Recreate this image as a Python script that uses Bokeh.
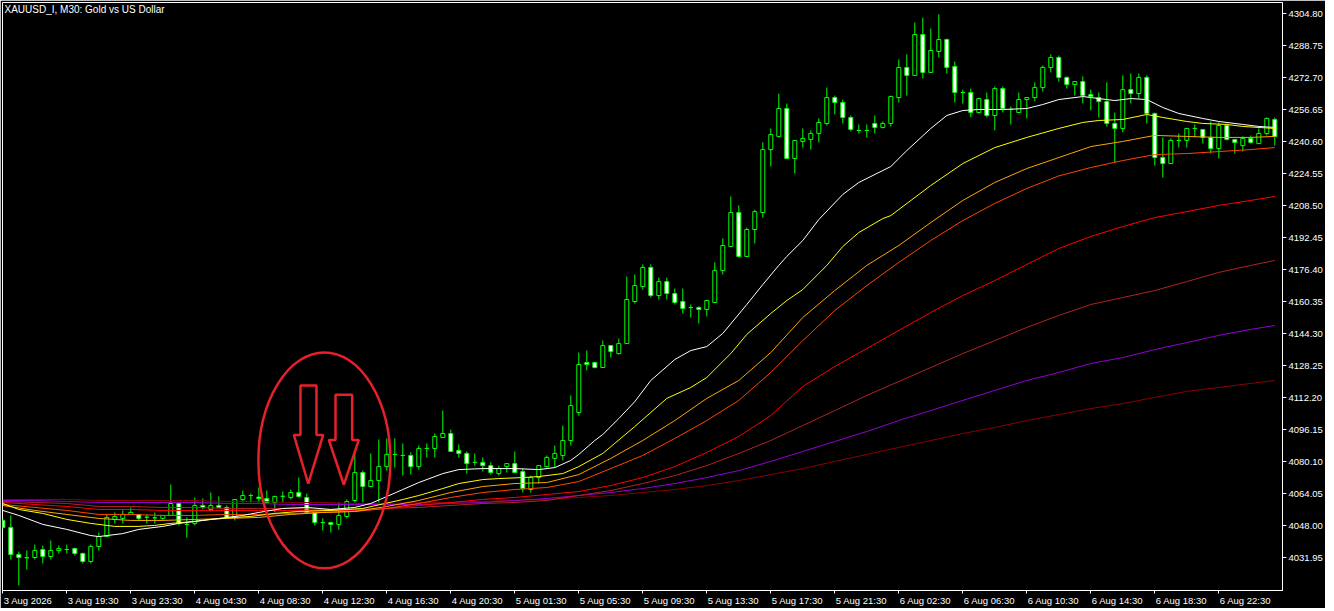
from bokeh.plotting import figure
from bokeh.models import Range1d, FixedTicker, Label, NumeralTickFormatter, LinearAxis
from bokeh.embed import file_html
from bokeh.resources import INLINE

title_text = "XAUUSD_I, M30:  Gold vs US Dollar"

x_tick_labels = ["3 Aug 2026", "3 Aug 19:30", "3 Aug 23:30", "4 Aug 04:30", "4 Aug 08:30",
                 "4 Aug 12:30", "4 Aug 16:30", "4 Aug 20:30", "5 Aug 01:30", "5 Aug 05:30",
                 "5 Aug 09:30", "5 Aug 13:30", "5 Aug 17:30", "5 Aug 21:30", "6 Aug 02:30",
                 "6 Aug 06:30", "6 Aug 10:30", "6 Aug 14:30", "6 Aug 18:30", "6 Aug 22:30"]
x_tick_bars = [0, 8, 16, 24, 32, 40, 48, 56, 64, 72, 80, 88, 96, 104, 112, 120, 128, 136, 144, 152]

y_tick_values = [4031.95, 4048.00, 4064.05, 4080.10, 4096.15, 4112.20, 4128.25, 4144.30, 4160.35,
                 4176.40, 4192.45, 4208.50, 4224.55, 4240.60, 4256.65, 4272.70, 4288.75, 4304.80]

# OHLC per 30-minute bar (bar index 0..159)
opens = [4050.7, 4047.2, 4033.6, 4032.0, 4032.1, 4036.1, 4032.6, 4035.6, 4036.1, 4036.6,
         4034.1, 4030.1, 4037.6, 4042.6, 4051.2, 4051.7, 4053.7, 4053.7, 4052.3, 4052.0,
         4051.7, 4053.2, 4059.2, 4048.7, 4049.2, 4058.2, 4056.2, 4058.2, 4057.2, 4052.2,
         4061.2, 4063.2, 4062.4, 4061.7, 4059.7, 4062.8, 4062.2, 4064.7, 4062.2, 4054.7,
         4049.6, 4049.6, 4048.7, 4052.7, 4060.7, 4074.7, 4067.7, 4070.7, 4077.7, 4083.8,
         4083.3, 4083.3, 4077.7, 4086.8, 4086.8, 4092.3, 4094.3, 4085.8, 4084.3, 4079.8,
         4079.8, 4078.2, 4074.2, 4077.7, 4079.2, 4075.2, 4066.2, 4072.2, 4077.7, 4081.8,
         4083.3, 4090.8, 4104.8, 4129.9, 4129.9, 4127.4, 4138.4, 4134.4, 4139.4, 4160.5,
         4168.0, 4177.6, 4163.5, 4170.5, 4164.5, 4160.5, 4157.5, 4157.5, 4156.5, 4160.0,
         4176.0, 4188.1, 4205.1, 4183.1, 4196.6, 4205.1, 4236.7, 4243.3, 4257.3, 4232.2,
         4240.8, 4241.8, 4244.8, 4249.8, 4262.8, 4260.3, 4252.8, 4246.3, 4246.3, 4249.8,
         4247.8, 4249.8, 4262.8, 4277.9, 4273.9, 4294.4, 4275.4, 4285.9, 4291.9, 4278.4,
         4265.3, 4265.3, 4255.3, 4261.8, 4253.8, 4267.3, 4256.8, 4255.3, 4261.8, 4262.8,
         4267.8, 4277.9, 4282.9, 4272.9, 4269.3, 4270.8, 4264.3, 4262.8, 4260.8, 4249.8,
         4247.3, 4266.8, 4264.8, 4272.9, 4254.8, 4232.7, 4229.7, 4241.3, 4241.3, 4247.3,
         4246.8, 4242.8, 4237.2, 4248.8, 4241.8, 4238.7, 4242.3, 4239.7, 4244.8, 4251.8]
highs = [4051.7, 4053.2, 4035.1, 4035.6, 4038.6, 4038.1, 4040.6, 4038.1, 4038.6, 4037.1,
         4034.6, 4038.6, 4044.6, 4053.7, 4054.7, 4055.7, 4057.2, 4053.7, 4053.7, 4054.7,
         4053.2, 4068.7, 4059.7, 4052.2, 4062.2, 4061.7, 4064.7, 4062.7, 4058.2, 4061.2,
         4065.7, 4064.2, 4067.2, 4065.7, 4063.2, 4065.2, 4066.2, 4072.2, 4064.2, 4054.7,
         4051.7, 4049.6, 4059.7, 4061.2, 4084.3, 4075.7, 4084.3, 4091.3, 4091.8, 4091.8,
         4089.3, 4084.8, 4088.3, 4089.3, 4094.3, 4105.8, 4096.3, 4088.8, 4085.3, 4084.3,
         4082.3, 4079.8, 4078.2, 4079.2, 4085.3, 4076.7, 4073.2, 4078.2, 4083.3, 4088.3,
         4098.3, 4113.4, 4134.9, 4135.9, 4130.4, 4140.9, 4138.4, 4141.9, 4173.0, 4174.0,
         4179.1, 4179.1, 4172.5, 4172.5, 4167.0, 4167.0, 4159.0, 4158.0, 4161.0, 4180.1,
         4192.1, 4213.2, 4208.7, 4197.6, 4206.6, 4240.3, 4247.3, 4264.8, 4259.8, 4241.3,
         4247.3, 4246.3, 4252.3, 4267.8, 4263.8, 4261.8, 4253.8, 4249.3, 4249.3, 4253.8,
         4250.8, 4263.8, 4281.9, 4284.4, 4300.4, 4302.9, 4297.4, 4304.5, 4292.4, 4280.9,
         4266.8, 4267.3, 4262.3, 4265.3, 4268.3, 4268.3, 4258.3, 4265.3, 4262.8, 4270.4,
         4278.9, 4284.4, 4283.9, 4273.4, 4270.8, 4273.4, 4266.8, 4265.3, 4270.4, 4255.3,
         4273.9, 4274.9, 4274.9, 4273.9, 4255.3, 4242.8, 4242.3, 4244.8, 4247.3, 4249.3,
         4246.8, 4250.8, 4250.3, 4249.8, 4241.8, 4243.3, 4243.8, 4247.3, 4252.8, 4252.8]
lows = [4046.1, 4031.1, 4018.1, 4026.1, 4031.1, 4029.1, 4031.1, 4034.1, 4034.1, 4033.1,
        4029.1, 4029.1, 4035.6, 4042.6, 4049.2, 4049.2, 4053.7, 4050.7, 4049.2, 4049.2,
        4050.7, 4053.2, 4048.2, 4042.1, 4048.2, 4056.2, 4055.2, 4057.2, 4052.2, 4050.7,
        4059.7, 4059.7, 4059.7, 4059.2, 4054.7, 4059.7, 4061.2, 4062.2, 4054.2, 4048.2,
        4045.6, 4044.6, 4046.1, 4051.7, 4059.7, 4059.7, 4067.7, 4059.7, 4075.7, 4077.2,
        4073.2, 4073.7, 4076.2, 4082.3, 4082.3, 4092.3, 4085.3, 4082.3, 4074.2, 4078.2,
        4075.2, 4073.7, 4073.2, 4074.7, 4074.7, 4064.7, 4064.7, 4069.2, 4077.2, 4077.2,
        4080.8, 4088.3, 4103.3, 4125.9, 4126.9, 4127.4, 4132.4, 4133.9, 4139.4, 4159.5,
        4166.5, 4162.5, 4161.5, 4161.5, 4159.0, 4154.5, 4152.5, 4149.5, 4153.0, 4160.0,
        4174.0, 4188.1, 4182.6, 4183.1, 4189.6, 4202.6, 4228.2, 4242.8, 4232.2, 4224.7,
        4237.7, 4236.7, 4240.3, 4248.8, 4254.3, 4249.8, 4245.8, 4244.8, 4242.8, 4244.8,
        4247.3, 4248.3, 4260.3, 4263.8, 4273.9, 4272.4, 4275.4, 4282.9, 4274.9, 4260.3,
        4259.8, 4252.8, 4254.8, 4252.8, 4246.3, 4255.3, 4249.3, 4255.3, 4252.3, 4260.8,
        4265.8, 4275.4, 4270.8, 4267.3, 4263.8, 4259.8, 4256.3, 4252.8, 4248.3, 4230.2,
        4245.3, 4259.8, 4262.3, 4249.8, 4228.7, 4222.7, 4229.7, 4237.7, 4237.7, 4242.8,
        4239.7, 4234.7, 4232.2, 4241.3, 4234.7, 4235.7, 4239.7, 4239.7, 4243.8, 4238.7]
closes = [4047.2, 4033.6, 4032.1, 4032.0, 4035.6, 4032.6, 4035.6, 4036.6, 4036.1, 4034.1,
          4030.1, 4037.6, 4042.6, 4052.2, 4052.7, 4053.7, 4054.7, 4051.7, 4052.3, 4052.0,
          4053.2, 4059.2, 4049.2, 4048.7, 4058.2, 4057.2, 4058.2, 4057.2, 4052.2, 4061.2,
          4063.2, 4063.2, 4061.7, 4059.7, 4062.7, 4062.8, 4064.7, 4062.7, 4054.7, 4049.6,
          4049.6, 4048.7, 4053.2, 4060.2, 4074.7, 4067.7, 4070.7, 4077.7, 4083.8, 4083.8,
          4083.3, 4077.7, 4086.8, 4086.8, 4092.8, 4094.3, 4085.3, 4084.3, 4079.2, 4079.8,
          4078.2, 4074.7, 4076.7, 4079.2, 4074.7, 4066.7, 4072.2, 4078.2, 4082.3, 4084.3,
          4090.8, 4108.3, 4128.9, 4128.9, 4127.4, 4138.4, 4135.4, 4139.4, 4161.5, 4168.5,
          4177.6, 4163.5, 4170.5, 4164.5, 4160.0, 4157.0, 4157.5, 4156.5, 4161.0, 4176.0,
          4188.6, 4205.1, 4183.1, 4196.6, 4205.6, 4236.7, 4244.3, 4257.3, 4232.2, 4241.3,
          4242.3, 4244.8, 4250.3, 4262.8, 4260.3, 4252.8, 4246.8, 4246.3, 4246.3, 4247.8,
          4249.8, 4263.3, 4277.9, 4273.9, 4294.4, 4275.4, 4286.4, 4291.9, 4277.9, 4265.3,
          4265.3, 4255.3, 4262.3, 4253.8, 4267.3, 4257.3, 4256.8, 4261.8, 4262.8, 4267.8,
          4277.9, 4282.9, 4272.9, 4269.3, 4270.8, 4263.8, 4263.3, 4260.8, 4249.8, 4247.3,
          4266.8, 4264.8, 4272.9, 4254.8, 4232.7, 4229.7, 4241.3, 4241.3, 4247.3, 4247.3,
          4242.8, 4237.2, 4248.8, 4241.8, 4240.3, 4242.3, 4240.3, 4244.8, 4252.3, 4243.3]

# Fast moving averages, read densely where they bend
white_bars = [0, 2, 5, 8, 11, 12, 15, 17, 20, 22, 25, 27, 30, 32, 35, 38, 41, 44, 46, 48,
              50, 52, 55, 57, 60, 64, 67, 69, 71, 72, 74, 75, 77, 79, 81, 84, 86, 88, 90, 93,
              95, 97, 98, 100, 102, 105, 107, 110, 111, 113, 116, 118, 120, 122, 125, 128, 130,
              132, 135, 139, 141, 143, 145, 147, 150, 152, 155, 157, 159]
ma_white = [4055.7, 4053.2, 4048.7, 4046.2, 4043.1, 4042.6, 4044.1, 4046.2, 4047.7, 4049.2,
            4050.7, 4051.7, 4053.2, 4054.7, 4056.7, 4057.2, 4056.2, 4057.2, 4059.2, 4062.7,
            4066.2, 4069.7, 4074.2, 4076.2, 4076.7, 4076.7, 4076.2, 4077.2, 4080.8, 4083.8,
            4090.8, 4093.8, 4101.8, 4110.3, 4120.9, 4131.4, 4135.9, 4137.9, 4144.5, 4159.0,
            4169.0, 4178.6, 4183.1, 4191.1, 4201.6, 4214.2, 4220.2, 4226.2, 4228.2, 4236.2,
            4247.3, 4253.8, 4256.3, 4256.8, 4256.8, 4257.3, 4259.3, 4261.8, 4263.3, 4261.3,
            4262.3, 4261.8, 4257.8, 4254.8, 4252.3, 4250.8, 4249.3, 4248.3, 4247.8]
yellow_bars = [0, 2, 5, 8, 11, 14, 17, 19, 21, 24, 26, 29, 31, 34, 37, 41, 45, 50, 52, 55,
               57, 60, 62, 65, 67, 70, 72, 75, 79, 83, 86, 88, 91, 93, 96, 98, 100, 103, 105,
               107, 110, 111, 116, 120, 124, 128, 132, 135, 137, 140, 143, 145, 148, 150, 153,
               155, 159]
ma_yellow = [4059.2, 4056.2, 4054.2, 4051.2, 4049.2, 4047.7, 4047.7, 4048.2, 4049.2, 4050.2,
             4051.2, 4052.2, 4052.7, 4054.2, 4055.2, 4055.7, 4056.7, 4061.2, 4063.2, 4066.7,
             4069.2, 4071.2, 4071.7, 4072.2, 4072.7, 4074.2, 4077.7, 4084.3, 4097.8, 4111.9,
             4117.4, 4122.4, 4134.4, 4144.0, 4154.5, 4161.0, 4166.5, 4178.6, 4188.1, 4195.1,
             4202.1, 4203.6, 4218.7, 4229.7, 4237.7, 4242.8, 4247.3, 4250.3, 4251.3, 4251.8,
             4254.3, 4252.8, 4250.8, 4249.8, 4249.3, 4248.3, 4247.3]

# Slower moving averages, read at every 4th bar
ma_bars = [0, 4, 8, 12, 16, 20, 24, 28, 32, 36, 40, 44, 48, 52, 56, 60, 64, 68, 72, 76,
           80, 84, 88, 92, 96, 100, 104, 108, 112, 116, 120, 124, 128, 132, 136, 140, 144, 148,
           152, 156, 159]
ma_orange = [4058.2, 4055.7, 4053.7, 4051.7, 4050.7, 4050.7, 4051.2, 4051.7, 4052.2, 4053.7,
             4054.7, 4055.2, 4057.7, 4060.7, 4064.7, 4067.7, 4069.2, 4069.7, 4073.7, 4081.8,
             4090.8, 4100.8, 4111.9, 4120.9, 4134.9, 4152.5, 4166.0, 4178.6, 4188.6, 4200.1,
             4211.2, 4220.2, 4227.2, 4232.7, 4238.2, 4240.8, 4243.8, 4243.3, 4242.8, 4242.8,
             4243.3]
ma_orangered = [4058.7, 4057.2, 4055.7, 4053.7, 4053.7, 4053.2, 4053.2, 4053.7, 4053.7, 4054.2,
                4054.7, 4055.2, 4056.7, 4059.2, 4062.2, 4064.7, 4066.2, 4067.2, 4070.2, 4076.7,
                4083.3, 4091.8, 4100.8, 4110.9, 4124.9, 4140.9, 4156.0, 4168.5, 4180.1, 4191.1,
                4201.1, 4209.7, 4217.2, 4223.5, 4227.7, 4231.2, 4234.2, 4234.7, 4235.7, 4236.7,
                4237.7]
ma_red = [4059.7, 4058.7, 4057.7, 4056.2, 4056.2, 4055.7, 4055.7, 4055.7, 4055.7, 4055.7,
          4055.7, 4055.7, 4056.7, 4058.2, 4059.7, 4061.2, 4062.2, 4063.7, 4065.2, 4068.2,
          4072.2, 4077.7, 4084.8, 4092.8, 4103.3, 4117.9, 4127.9, 4136.9, 4146.0, 4155.0,
          4163.5, 4171.0, 4179.1, 4187.1, 4193.1, 4198.1, 4202.6, 4205.6, 4208.7, 4211.2,
          4213.2]
ma_firebrick = [4060.2, 4059.7, 4059.2, 4057.7, 4057.7, 4057.2, 4057.2, 4056.7, 4056.7, 4056.7,
                4056.2, 4056.2, 4056.7, 4057.2, 4058.2, 4059.2, 4059.7, 4060.7, 4063.2, 4065.7,
                4069.2, 4073.2, 4078.2, 4084.3, 4090.8, 4098.3, 4105.8, 4113.4, 4120.4, 4127.4,
                4134.4, 4140.9, 4147.5, 4153.5, 4159.0, 4162.5, 4166.0, 4170.5, 4175.1, 4178.6,
                4181.1]
ma_purple = [4060.7, 4060.7, 4060.2, 4059.7, 4059.7, 4059.7, 4059.7, 4059.2, 4059.2, 4058.7,
             4058.7, 4058.7, 4058.7, 4058.7, 4059.2, 4059.7, 4060.7, 4061.7, 4063.2, 4064.7,
             4066.7, 4069.2, 4072.2, 4075.7, 4080.3, 4085.3, 4090.3, 4095.3, 4100.8, 4105.8,
             4110.9, 4115.9, 4120.9, 4124.9, 4129.4, 4132.4, 4136.4, 4139.9, 4143.5, 4146.5,
             4148.5]
ma_maroon = [4061.2, 4061.2, 4061.2, 4060.7, 4060.7, 4060.7, 4060.7, 4060.2, 4060.2, 4059.7,
             4059.7, 4059.2, 4059.2, 4059.7, 4059.7, 4060.2, 4060.7, 4061.2, 4062.2, 4063.2,
             4064.7, 4066.2, 4068.2, 4070.7, 4073.7, 4076.7, 4080.3, 4083.8, 4087.3, 4090.8,
             4094.3, 4097.3, 4100.8, 4103.8, 4106.8, 4109.3, 4112.4, 4115.4, 4117.4, 4119.4,
             4120.9]

# Hand-drawn annotations (bar index, price)
ellipse_center = (40.2, 4080.8)
ellipse_size = (16.5, 108.3)
arrow1_x = [37.21, 39.21, 39.21, 40.05, 38.18, 36.38, 37.21]
arrow1_y = [4118.4, 4118.4, 4093.6, 4093.6, 4069.1, 4093.6, 4093.6]
arrow2_x = [41.59, 43.67, 43.67, 44.50, 42.63, 40.75, 41.59]
arrow2_y = [4113.7, 4113.7, 4091.1, 4091.1, 4068.6, 4091.1, 4091.1]

FONT = "Liberation Sans"
FS = 9.5
GREEN = "#00FF00"
ANNOT = "#E8202A"

PX_PER_BAR = 8.0
PRICE_PER_PX = 0.50156
FW, FH = 1280, 588
x_start = -0.0375
x_end = x_start + FW / PX_PER_BAR
y_end = 4310.47
y_start = y_end - FH * PRICE_PER_PX

p = figure(frame_width=FW, frame_height=FH,
           x_range=Range1d(x_start, x_end), y_range=Range1d(y_start, y_end),
           output_backend="svg", toolbar_location=None, y_axis_location="right",
           background_fill_color="black", border_fill_color="black",
           min_border_left=2, min_border_top=2, min_border_right=0, min_border_bottom=0)
p.grid.visible = False
p.outline_line_color = "white"
p.outline_line_width = 1

bars = list(range(len(opens)))
tops = [max(o, c) for o, c in zip(opens, closes)]
bots = [min(o, c) for o, c in zip(opens, closes)]
fills = ["white" if c < o else "black" for o, c in zip(opens, closes)]

p.segment(x0=bars, y0=lows, x1=bars, y1=highs, line_color=GREEN, line_width=1)
p.vbar(x=bars, width=0.5, top=tops, bottom=bots, fill_color=fills,
       line_color=GREEN, line_width=1)

for xs, vals, col in [(ma_bars, ma_maroon, "#8B0000"), (ma_bars, ma_purple, "#9400D3"),
                      (ma_bars, ma_firebrick, "#B22222"), (ma_bars, ma_red, "#FF0000"),
                      (ma_bars, ma_orangered, "#FF4500"), (ma_bars, ma_orange, "#FFA500"),
                      (yellow_bars, ma_yellow, "#FFFF00"), (white_bars, ma_white, "#FFFFFF")]:
    p.line(xs, vals, line_color=col, line_width=1)

p.ellipse(x=[ellipse_center[0]], y=[ellipse_center[1]], width=[ellipse_size[0]],
          height=[ellipse_size[1]], fill_color=None, line_color=ANNOT, line_width=2.5)
p.patch(arrow1_x, arrow1_y, fill_color=None, line_color=ANNOT, line_width=2.5)
p.patch(arrow2_x, arrow2_y, fill_color=None, line_color=ANNOT, line_width=2.5)

p.add_layout(Label(x=x_start, y=y_end, x_offset=2, y_offset=-1, text=title_text,
                   text_color="white", text_font=FONT, text_font_size="10px",
                   text_baseline="top", text_align="left"))

# x axis: tick marks at the bars, labels placed to the right of each tick (left aligned)
p.xaxis.ticker = FixedTicker(ticks=x_tick_bars)
p.xaxis.major_label_overrides = {t: "" for t in x_tick_bars}
p.xaxis.major_tick_out = 3
p.xaxis.major_label_standoff = 0

ADV = {"0": 556, "1": 556, "2": 556, "3": 556, "4": 556, "5": 556, "6": 556, "7": 556,
       "8": 556, "9": 556, " ": 278, ":": 278, "A": 667, "u": 556, "g": 556}
def text_w(s):
    return sum(ADV.get(ch, 556) for ch in s) * FS / 1000.0

label_pos = [t + (1.0 + text_w(l) / 2.0) / PX_PER_BAR for t, l in zip(x_tick_bars, x_tick_labels)]
lab_axis = LinearAxis(ticker=FixedTicker(ticks=label_pos),
                      major_label_overrides={t: l for t, l in zip(label_pos, x_tick_labels)},
                      axis_line_color=None, major_tick_line_color=None, minor_tick_line_color=None,
                      major_tick_in=0, major_tick_out=0, major_label_standoff=1,
                      major_label_text_color="white", major_label_text_font=FONT,
                      major_label_text_font_size=f"{FS}px")
p.add_layout(lab_axis, "below")

p.yaxis.ticker = FixedTicker(ticks=y_tick_values)
p.yaxis.formatter = NumeralTickFormatter(format="0.00")
p.yaxis.major_tick_out = 4
p.yaxis.major_label_standoff = 2
for ax in (p.xaxis[0], p.yaxis[0]):
    ax.axis_line_color = "white"
    ax.major_tick_line_color = "white"
    ax.minor_tick_line_color = None
    ax.major_tick_in = 0
    ax.major_label_text_color = "white"
    ax.major_label_text_font = FONT
    ax.major_label_text_font_size = f"{FS}px"

open("out.html", "w").write(file_html(p, INLINE))
